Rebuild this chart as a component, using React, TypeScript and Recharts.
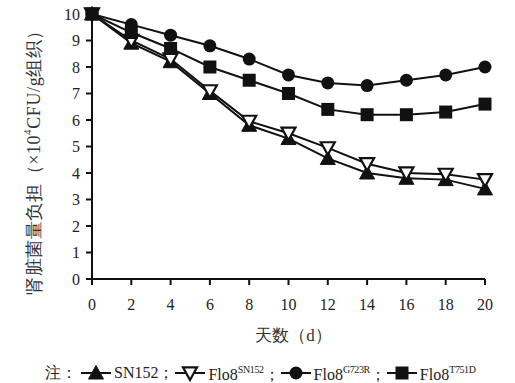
import React from 'react';
import { LineChart, Line, XAxis, YAxis } from 'recharts';

const days = [0, 2, 4, 6, 8, 10, 12, 14, 16, 18, 20];
const sn152 = [10, 8.9, 8.2, 7.0, 5.8, 5.3, 4.55, 4.0, 3.8, 3.75, 3.4];
const flo8SN152 = [10, 9.0, 8.3, 7.1, 5.95, 5.5, 4.95, 4.35, 4.0, 3.95, 3.75];
const flo8G723R = [10, 9.6, 9.2, 8.8, 8.3, 7.7, 7.4, 7.3, 7.5, 7.7, 8.0];
const flo8T751D = [10, 9.3, 8.7, 8.0, 7.5, 7.0, 6.4, 6.2, 6.2, 6.3, 6.6];
const yTicks = [0, 1, 2, 3, 4, 5, 6, 7, 8, 9, 10];
const xTicks = [0, 2, 4, 6, 8, 10, 12, 14, 16, 18, 20];

const data = days.map((d, i) => ({
  day: d,
  sn152: sn152[i],
  flo8SN152: flo8SN152[i],
  flo8G723R: flo8G723R[i],
  flo8T751D: flo8T751D[i],
}));

const FONT = '"Liberation Serif", "Times New Roman", serif';
const INK = '#111';

const TriUp = (p: any) => {
  const { cx, cy } = p;
  if (cx == null || cy == null) return null;
  const s = 7.5;
  return <polygon points={`${cx},${cy - s} ${cx + s},${cy + s * 0.8} ${cx - s},${cy + s * 0.8}`} fill={INK} stroke={INK} strokeWidth={1} />;
};
const TriDown = (p: any) => {
  const { cx, cy } = p;
  if (cx == null || cy == null) return null;
  const s = 7;
  return <polygon points={`${cx - s},${cy - s * 0.8} ${cx + s},${cy - s * 0.8} ${cx},${cy + s}`} fill="#fff" stroke={INK} strokeWidth={2.2} />;
};
const Circ = (p: any) => {
  const { cx, cy } = p;
  if (cx == null || cy == null) return null;
  return <circle cx={cx} cy={cy} r={6.5} fill={INK} />;
};
const Sq = (p: any) => {
  const { cx, cy } = p;
  if (cx == null || cy == null) return null;
  return <rect x={cx - 6.5} y={cy - 6.5} width={13} height={13} fill={INK} />;
};

const YLabel = () => {
  const cx = 34;
  const cy = 158;
  return (
    <text
      x={cx}
      y={cy}
      transform={`rotate(-90, ${cx}, ${cy})`}
      textAnchor="middle"
      dominantBaseline="central"
      fontFamily={FONT}
      fontSize={18}
      fill="#333"
      letterSpacing={0.6}
    >
      肾脏菌量负担（×10<tspan dy={-7} fontSize={11}>4</tspan>
      <tspan dy={7}>CFU/g组织）</tspan>
    </text>
  );
};

const legendItems = [
  { name: 'SN152', sup: '', Icon: TriUp },
  { name: 'Flo8', sup: 'SN152', Icon: TriDown },
  { name: 'Flo8', sup: 'G723R', Icon: Circ },
  { name: 'Flo8', sup: 'T751D', Icon: Sq },
];

const LegendBox = () => (
  <div
    style={{
      position: 'absolute',
      left: 0,
      top: 360,
      width: 515,
      fontFamily: FONT,
      fontSize: 16,
      color: '#222',
      display: 'flex',
      alignItems: 'center',
      paddingLeft: 45,
      whiteSpace: 'nowrap',
      lineHeight: '20px',
    }}
  >
    <span>注：</span>
    {legendItems.map((it, i) => (
      <span key={i} style={{ display: 'inline-flex', alignItems: 'center' }}>
        <svg width={30} height={18} style={{ marginLeft: i === 0 ? 4 : 1 }}>
          <line x1={0} y1={9} x2={30} y2={9} stroke={INK} strokeWidth={2} />
          <it.Icon cx={15} cy={9} />
        </svg>
        <span style={{ marginLeft: 3 }}>
          {it.name}
          {it.sup ? <sup style={{ fontSize: 10, verticalAlign: 7, letterSpacing: -0.4 }}>{it.sup}</sup> : null}
          {i < legendItems.length - 1 ? '；' : ''}
        </span>
      </span>
    ))}
  </div>
);

export default function App() {
  return (
    <div style={{ position: 'absolute', left: 0, top: 0, width: 515, height: 383, background: '#fff' }}>
      <LineChart
        width={515}
        height={383}
        data={data}
        margin={{ top: 14, right: 30, bottom: 44, left: 50 }}
      >
        <XAxis
          dataKey="day"
          type="number"
          domain={[0, 20]}
          ticks={xTicks}
          interval={0}
          height={60}
          stroke={INK}
          strokeWidth={2}
          tickSize={6}
          tickMargin={14}
          tick={{ fontFamily: FONT, fontSize: 16, fill: '#222' }}
          label={{ value: '天数（d）', position: 'insideBottom', offset: -2, dx: 5, fontFamily: FONT, fontSize: 17, fill: '#333' }}
        />
        <YAxis
          type="number"
          domain={[0, 10]}
          ticks={yTicks}
          interval={0}
          width={42}
          stroke={INK}
          strokeWidth={2}
          tickSize={6}
          tickMargin={6}
          tick={{ fontFamily: FONT, fontSize: 16, fill: '#222' }}
          label={<YLabel />}
        />
        <Line dataKey="sn152" stroke={INK} strokeWidth={2} dot={<TriUp />} isAnimationActive={false} />
        <Line dataKey="flo8SN152" stroke={INK} strokeWidth={2} dot={<TriDown />} isAnimationActive={false} />
        <Line dataKey="flo8G723R" stroke={INK} strokeWidth={2} dot={<Circ />} isAnimationActive={false} />
        <Line dataKey="flo8T751D" stroke={INK} strokeWidth={2} dot={<Sq />} isAnimationActive={false} />
      </LineChart>
      <LegendBox />
    </div>
  );
}
